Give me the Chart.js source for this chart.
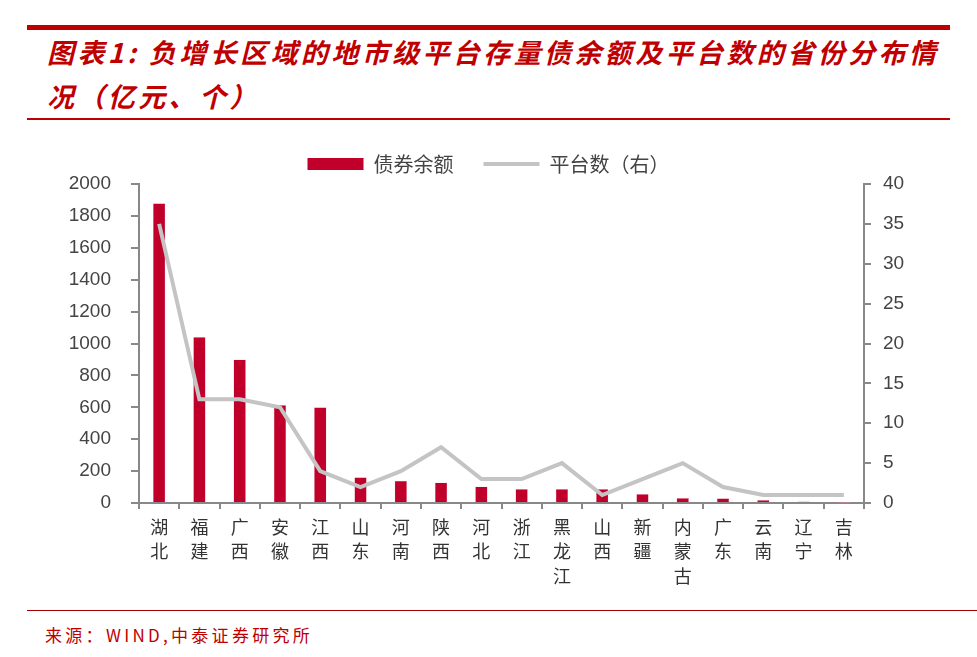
<!DOCTYPE html>
<html>
<head>
<meta charset="utf-8">
<script src="https://cdn.jsdelivr.net/npm/chart.js@4"></script>
<style>
  body { margin: 0; background: #fff; width: 977px; height: 657px; position: relative; overflow: hidden; }
  .linea-gruesa { position: absolute; left: 27px; width: 923px; top: 25px; height: 5px; background: #C00000; }
  .linea-fina { position: absolute; left: 27px; width: 923px; top: 118px; height: 2px; background: #C00000; }
  .titulo { position: absolute; left: 47px; top: 30px; color: #C00000; white-space: nowrap;
            font-family: "Noto Sans CJK SC", sans-serif; font-size: 27px; font-weight: bold; font-style: italic;
            letter-spacing: 3.4px; line-height: 44px; }
  .linea-fuente { position: absolute; left: 27px; right: 0; top: 610px; height: 1px; background: #A00000; }
  .fuente { position: absolute; left: 45px; top: 622px; color: #C00000;
            font-family: "Noto Sans CJK SC", monospace; font-size: 17px; letter-spacing: 3.3px; }
  #grafica { position: absolute; left: 0; top: 120px; }
</style>
</head>
<body>
<div class="linea-gruesa"></div>
<div class="titulo">图表1: 负增长区域的地市级平台存量债余额及平台数的省份分布情<br>况（亿元、个）</div>
<div class="linea-fina"></div>
<canvas id="grafica" width="977" height="490"></canvas>
<div class="linea-fuente"></div>
<div class="fuente">来源：WIND,中泰证券研究所</div>

<script>
// Provincias (eje x)
const provincias = ['湖北','福建','广西','安徽','江西','山东','河南','陕西','河北','浙江','黑龙江','山西','新疆','内蒙古','广东','云南','辽宁','吉林'];

// Saldo de bonos (亿元)
const saldoDeuda = [1880, 1040, 900, 615, 600, 162, 140, 129, 104, 87, 87, 87, 56, 31, 29, 19, 10, 2];

// Número de plataformas (eje derecho)
const numPlataformas = [35, 13, 13, 12, 4, 2, 4, 7, 3, 3, 5, 1, 3, 5, 2, 1, 1, 1];

// Ticks de los ejes
const ticksIzq = [0, 200, 400, 600, 800, 1000, 1200, 1400, 1600, 1800, 2000];
const ticksDer = [0, 5, 10, 15, 20, 25, 30, 35, 40];

// Etiquetas verticales: un carácter por línea
const etiquetas = provincias.map(p => p.split(''));

const gris = '#888888';
const fuenteEje = { family: 'Arial, "Liberation Sans", sans-serif', size: 19 };

new Chart(document.getElementById('grafica'), {
    data: {
        labels: etiquetas,
        datasets: [{
            type: 'bar',
            label: '债券余额',
            data: saldoDeuda,
            backgroundColor: '#C0002B',
            borderColor: '#F3C6CF',
            borderWidth: 0.5,
            barPercentage: 0.31,
            categoryPercentage: 1,
            yAxisID: 'y',
            order: 2
        }, {
            type: 'line',
            label: '平台数（右）',
            data: numPlataformas,
            borderColor: '#C4C4C4',
            backgroundColor: '#C4C4C4',
            borderWidth: 4,
            pointRadius: 0,
            tension: 0,
            yAxisID: 'y1',
            order: 1
        }]
    },
    options: {
        responsive: false,
        animation: false,
        devicePixelRatio: 1,
        layout: { padding: { top: 4, left: 0, right: 0, bottom: 0 } },
        plugins: {
            tooltip: { enabled: false },
            legend: {
                position: 'top',
                labels: {
                    color: '#444',
                    font: { family: '"Noto Sans CJK SC", sans-serif', size: 20 },
                    usePointStyle: true,
                    pointStyleWidth: 56,
                    boxHeight: 12,
                    padding: 30,
                    generateLabels(chart) {
                        return chart.data.datasets.map((ds, i) => ({
                            text: ds.label,
                            fillStyle: ds.backgroundColor,
                            strokeStyle: ds.type === 'line' ? ds.borderColor : ds.backgroundColor,
                            lineWidth: ds.type === 'line' ? 4 : 0,
                            pointStyle: ds.type === 'line' ? 'line' : 'rect',
                            fontColor: '#444',
                            datasetIndex: i,
                            hidden: false
                        }));
                    }
                }
            }
        },
        scales: {
            x: {
                offset: true,
                grid: { display: true, drawOnChartArea: false, offset: true, tickLength: 6, color: gris, lineWidth: 2 },
                border: { color: gris, width: 2 },
                ticks: {
                    color: '#333',
                    font: { family: '"Noto Sans CJK SC", sans-serif', size: 18, lineHeight: 1.35 },
                    maxRotation: 0,
                    autoSkip: false,
                    padding: 6
                },
                afterFit(scale) { scale.height = 107; }
            },
            y: {
                position: 'left',
                min: 0,
                max: 2000,
                afterBuildTicks(scale) { scale.ticks = ticksIzq.map(v => ({ value: v })); },
                grid: { drawOnChartArea: false, tickLength: 8, color: gris, lineWidth: 2 },
                border: { color: gris, width: 2 },
                ticks: { color: '#444', font: fuenteEje, padding: 20, callback: v => String(v) },
                afterFit(scale) { scale.width = 139; }
            },
            y1: {
                position: 'right',
                min: 0,
                max: 40,
                afterBuildTicks(scale) { scale.ticks = ticksDer.map(v => ({ value: v })); },
                grid: { drawOnChartArea: false, tickLength: 7, color: gris, lineWidth: 2 },
                border: { color: gris, width: 2 },
                ticks: { color: '#444', font: fuenteEje, padding: 12, callback: v => String(v) },
                afterFit(scale) { scale.width = 113; }
            }
        }
    }
});
</script>
</body>
</html>
